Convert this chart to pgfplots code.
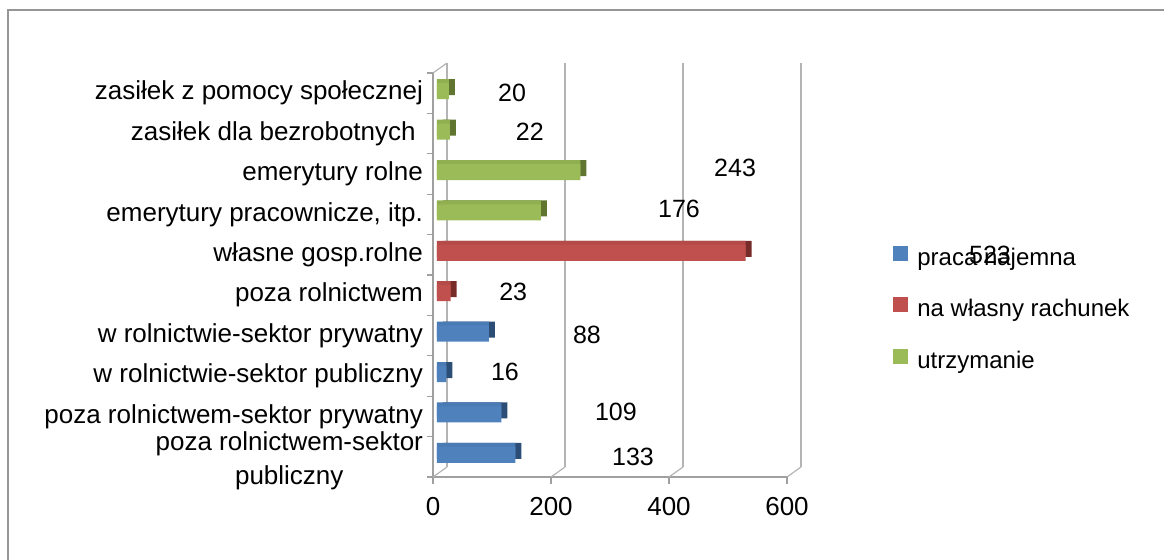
\documentclass[border=0pt]{standalone}
\usepackage{fontspec}
\setmainfont{Liberation Sans}
\usepackage{pgfplots}
\pgfplotsset{compat=1.18}
\definecolor{bfront}{HTML}{4F81BD}
\definecolor{btop}{HTML}{4A7BB5}
\definecolor{bside}{HTML}{2C4D75}
\definecolor{rfront}{HTML}{C0504D}
\definecolor{rtop}{HTML}{B54B48}
\definecolor{rside}{HTML}{772C2A}
\definecolor{gfront}{HTML}{9BBB59}
\definecolor{gtop}{HTML}{8FAF50}
\definecolor{gside}{HTML}{5F7530}
\definecolor{framegray}{HTML}{969696}
\definecolor{gridgray}{HTML}{B4B4B4}
\definecolor{axisgray}{HTML}{A0A0A0}
\begin{document}
\begin{tikzpicture}
\useasboundingbox (0,0) rectangle (582pt,279.5pt);
\draw[framegray, line width=1pt] (3.75pt,-1pt) -- (3.75pt,274.75pt) -- (583pt,274.75pt);
\begin{axis}[
  at={(216.5pt,41pt)}, anchor=south west,
  scale only axis, width=177pt, height=202pt,
  xmin=0, xmax=600, ymin=-0.5, ymax=9.5,
  enlargelimits=false, clip=false,
  axis lines*=left,
  axis line style={draw=none},
  major tick length=0pt,
  xtick={0,200,400,600},
  ytick={1,...,9},
  yticklabels={poza rolnictwem-sektor prywatny,
    w rolnictwie-sektor publiczny,
    w rolnictwie-sektor prywatny,
    poza rolnictwem,
    własne gosp.rolne,
    {emerytury pracownicze, itp.},
    emerytury rolne,
    zasiłek dla bezrobotnych\ ,
    zasiłek z pomocy społecznej},
  extra y ticks={-0.1},
  extra y tick labels={{poza rolnictwem-sektor\\publiczny}},
  tick label style={font=\fontsize{13}{17}\selectfont},
  xticklabel style={yshift=-6.5pt},
  yticklabel style={align=center, xshift=-1.5pt},
  /pgf/number format/assume math mode=true,
  legend style={at={(1.2994,0.578)}, anchor=north west, draw=none, fill=none,
    inner sep=0pt, row sep=11.5pt,
    font=\fontsize{12}{14}\selectfont},
  legend cell align=left,
  legend image code/.code={\fill[#1] (0pt,-2.5pt) rectangle (7.5pt,5pt); \path (10pt,0pt);},
]
% front axis lines and tick marks
\draw[axisgray, line width=0.6pt] (axis cs:0,9.5) -- (axis cs:0,-0.5) -- (axis cs:600,-0.5);
\pgfplotsinvokeforeach{0,200,400,600}{
  \draw[gridgray, line width=0.6pt] ([shift={(7pt,5pt)}]axis cs:#1,-0.5) -- ([shift={(7pt,5pt)}]axis cs:#1,9.5);
  \draw[gridgray, line width=0.6pt] (axis cs:#1,-0.5) -- ([shift={(7pt,5pt)}]axis cs:#1,-0.5);
  \draw[axisgray, line width=0.6pt] (axis cs:#1,-0.5) -- ([yshift=-3.5pt]axis cs:#1,-0.5);
}
\draw[gridgray, line width=0.6pt] (axis cs:0,9.5) -- ([shift={(7pt,5pt)}]axis cs:0,9.5);
\pgfplotsinvokeforeach{-0.5,0.5,1.5,2.5,3.5,4.5,5.5,6.5,7.5,8.5,9.5}{
  \draw[axisgray, line width=0.6pt] (axis cs:0,#1) -- ([xshift=-3pt]axis cs:0,#1);
}
% side and top layers
\addplot[xbar, bar width=8pt, bar shift=0pt, draw=none, fill=bside, xshift=5pt, yshift=3pt, forget plot]
  coordinates {(133,0) (109,1) (16,2) (88,3)};
\addplot[xbar, bar width=8pt, bar shift=0pt, draw=none, fill=btop, xshift=2pt, yshift=3pt, forget plot]
  coordinates {(133,0) (109,1) (16,2) (88,3)};
\addplot[xbar, bar width=8pt, bar shift=0pt, draw=none, fill=rside, xshift=5pt, yshift=3pt, forget plot]
  coordinates {(23,4) (523,5)};
\addplot[xbar, bar width=8pt, bar shift=0pt, draw=none, fill=rtop, xshift=2pt, yshift=3pt, forget plot]
  coordinates {(23,4) (523,5)};
\addplot[xbar, bar width=8pt, bar shift=0pt, draw=none, fill=gside, xshift=5pt, yshift=3pt, forget plot]
  coordinates {(176,6) (243,7) (22,8) (20,9)};
\addplot[xbar, bar width=8pt, bar shift=0pt, draw=none, fill=gtop, xshift=2pt, yshift=3pt, forget plot]
  coordinates {(176,6) (243,7) (22,8) (20,9)};
% front faces
\addplot[xbar, bar width=8pt, bar shift=0pt, draw=none, fill=bfront, xshift=2pt, yshift=1pt]
  coordinates {(133,0) (109,1) (16,2) (88,3)};
\addlegendentry{praca najemna}
\addplot[xbar, bar width=8pt, bar shift=0pt, draw=none, fill=rfront, xshift=2pt, yshift=1pt]
  coordinates {(23,4) (523,5)};
\addlegendentry{na własny rachunek}
\addplot[xbar, bar width=8pt, bar shift=0pt, draw=none, fill=gfront, xshift=2pt, yshift=1pt]
  coordinates {(176,6) (243,7) (22,8) (20,9)};
\addlegendentry{utrzymanie}
% value labels
\addplot[draw=none, mark=none, forget plot, nodes near coords, point meta=explicit symbolic,
  every node near coord/.style={anchor=center, text=black, font=\fontsize{12.5}{15}\selectfont}]
  table[x=x, y=y, meta=lab] {
x y lab
339 0.0 133
310 1.11 109
122 2.1 16
261 3.01 88
136 4.08 23
944 5.0 523
417 6.13 176
512 7.15 243
164 8.04 22
134 9.0 20
};
\end{axis}
\end{tikzpicture}
\end{document}
